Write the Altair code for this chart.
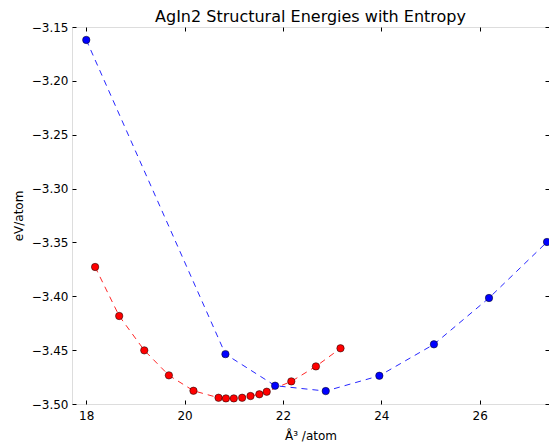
import altair as alt
import pandas as pd

# Volume per atom (Å^3) and energy (eV/atom) for the two structures
blue_x = [18.0, 20.83, 21.84, 22.87, 23.96, 25.07, 26.19, 27.37]
blue_y = [-3.162, -3.4537, -3.483, -3.488, -3.4738, -3.4446, -3.4016, -3.3496]

red_x = [18.18, 18.67, 19.18, 19.68, 20.18, 20.69, 20.84, 21.0, 21.17,
         21.34, 21.52, 21.67, 22.17, 22.67, 23.17]
red_y = [-3.3728, -3.4183, -3.4502, -3.4734, -3.4877, -3.4942, -3.4948, -3.4948,
         -3.4942, -3.4926, -3.491, -3.4886, -3.479, -3.4651, -3.4483]

x_ticks = [18, 20, 22, 24, 26]
y_ticks = [-3.50, -3.45, -3.40, -3.35, -3.30, -3.25, -3.20, -3.15]

blue_df = pd.DataFrame({"vol": blue_x, "energy": blue_y})
red_df = pd.DataFrame({"vol": red_x, "energy": red_y})

FONT = "DejaVu Sans"
x_scale = alt.Scale(domain=[17.71, 27.41], nice=False, zero=False)
y_scale = alt.Scale(domain=[-3.50, -3.15], nice=False, zero=False)

# Axis flavours: labelled axes without ticks, and tick-only axes pushed inward
x_label_axis = alt.Axis(values=x_ticks, title="Å³ /atom", ticks=False, domain=False,
                        grid=False, labelPadding=6, labelFontSize=12, labelFont=FONT,
                        labelColor="black", titleFont=FONT, titleFontSize=12,
                        titleFontWeight="normal", titleColor="black", titleY=35,
                        titleBaseline="alphabetic", format="d")
y_label_axis = alt.Axis(values=y_ticks, title="eV/atom", ticks=False, domain=False,
                        grid=False, labelPadding=4, labelFontSize=12, labelFont=FONT,
                        labelColor="black", titleFont=FONT, titleFontSize=12,
                        titleFontWeight="normal", titleColor="black", titleX=-54,
                        titleBaseline="middle", format=".2f")


def tick_axis(values, orient):
    return alt.Axis(values=values, orient=orient, labels=False, title=None,
                    domain=False, grid=False, ticks=True, tickSize=4,
                    tickColor="black", tickWidth=1, offset=-4)


blue_line = alt.Chart(blue_df).mark_line(
    color="#0000ff", strokeDash=[6, 5], strokeWidth=1, opacity=0.85, clip=True
).encode(
    x=alt.X("vol:Q", scale=x_scale, axis=x_label_axis),
    y=alt.Y("energy:Q", scale=y_scale, axis=y_label_axis),
)

red_line = alt.Chart(red_df).mark_line(
    color="#ff0000", strokeDash=[6, 5], strokeWidth=1, opacity=0.85, clip=True
).encode(
    x=alt.X("vol:Q", scale=x_scale, axis=tick_axis(x_ticks, "bottom")),
    y=alt.Y("energy:Q", scale=y_scale, axis=tick_axis(y_ticks, "left")),
)

blue_pts = alt.Chart(blue_df).mark_circle(
    color="#0000ff", size=55, opacity=1, stroke="black", strokeWidth=0.5, clip=True
).encode(
    x=alt.X("vol:Q", scale=x_scale, axis=tick_axis(x_ticks, "top")),
    y=alt.Y("energy:Q", scale=y_scale, axis=tick_axis(y_ticks, "right")),
)

red_pts = alt.Chart(red_df).mark_circle(
    color="#ff0000", size=55, opacity=1, stroke="black", strokeWidth=0.5, clip=True
).encode(
    x=alt.X("vol:Q", scale=x_scale, axis=None),
    y=alt.Y("energy:Q", scale=y_scale, axis=None),
)

chart = alt.layer(blue_line, red_line, blue_pts, red_pts).resolve_axis(
    x="independent", y="independent"
).properties(
    width=477,
    height=377,
    title=alt.TitleParams("AgIn2 Structural Energies with Entropy", font=FONT,
                          fontSize=16, fontWeight="normal", color="black", offset=-4),
    autosize=alt.AutoSizeParams(type="none"),
    padding={"left": 72, "top": 27, "right": 0, "bottom": 38},
).configure_view(
    stroke="black", strokeWidth=1
).configure(background="white")

chart.save("out.html", embed_options={"renderer": "svg", "actions": False})
